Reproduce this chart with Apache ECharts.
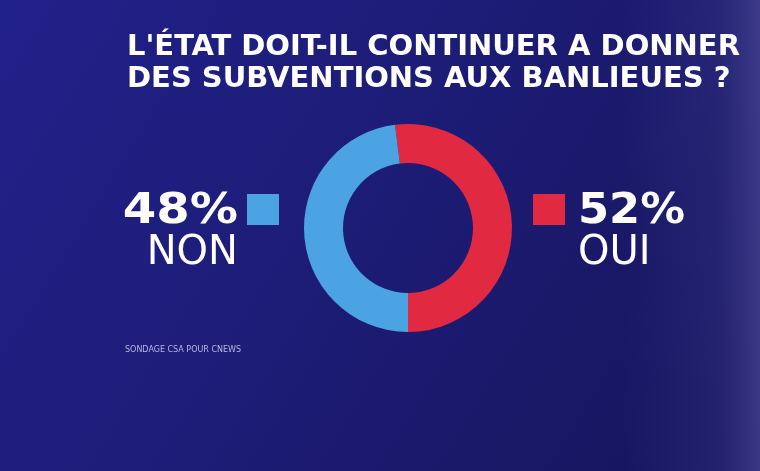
<!DOCTYPE html>
<html>
<head>
<meta charset="utf-8">
<script src="https://cdn.jsdelivr.net/npm/echarts@6/dist/echarts.min.js"></script>
<style>
  html, body { margin: 0; padding: 0; }
  #chart { width: 760px; height: 471px; }
</style>
</head>
<body>
<div id="chart"></div>
<script>
// sondage CSA pour CNews
const titleLines = ["L'ÉTAT DOIT-IL CONTINUER A DONNER", "DES SUBVENTIONS AUX BANLIEUES ?"];
const answers = ["OUI", "NON"];
const shares = [52, 48];
const colors = ["#e12a42", "#4ca3e4"];
const source = "SONDAGE CSA POUR CNEWS";

const chart = echarts.init(document.getElementById("chart"));

const titleFont = "bold 28px 'DejaVu Sans Condensed'";
const bigFont = "bold 43px 'DejaVu Sans'";
const smallFont = "40px 'DejaVu Sans'";

// largeur du titre calée sur l'image (613px pour la 1re ligne)
const ctx = document.createElement("canvas").getContext("2d");
ctx.font = titleFont;
const titleScale = 613 / ctx.measureText(titleLines[0]).width;

chart.setOption({
  backgroundColor: {
    type: "linear", x: 0, y: 0, x2: 1, y2: 1,
    colorStops: [
      { offset: 0, color: "#21218a" },
      { offset: 0.55, color: "#1c1b72" },
      { offset: 1, color: "#15145a" }
    ]
  },
  graphic: [
    // halo clair a droite
    {
      type: "rect", z: -10, silent: true,
      shape: { x: 620, y: 0, width: 140, height: 471 },
      style: {
        fill: {
          type: "linear", x: 0, y: 0, x2: 1, y2: 0,
          colorStops: [
            { offset: 0, color: "rgba(80,80,170,0)" },
            { offset: 0.7, color: "rgba(80,78,160,0.22)" },
            { offset: 1, color: "rgba(95,92,170,0.5)" }
          ]
        }
      }
    },
    {
      type: "text", x: 127, y: 34, scaleX: titleScale,
      style: { text: titleLines[0], fill: "#fff", font: titleFont, verticalAlign: "top" }
    },
    {
      type: "text", x: 127, y: 66, scaleX: titleScale,
      style: { text: titleLines[1], fill: "#fff", font: titleFont, verticalAlign: "top" }
    },
    // NON (gauche)
    {
      type: "text", x: 238, y: 212, scaleX: 1.12,
      style: { text: shares[1] + "%", fill: "#fff", font: bigFont, align: "right", verticalAlign: "middle" }
    },
    {
      type: "text", x: 238, y: 254,
      style: { text: answers[1], fill: "#fff", font: smallFont, align: "right", verticalAlign: "middle" }
    },
    {
      type: "rect", shape: { x: 247, y: 194, width: 32, height: 31 },
      style: { fill: colors[1] }
    },
    // OUI (droite)
    {
      type: "rect", shape: { x: 533, y: 194, width: 32, height: 31 },
      style: { fill: colors[0] }
    },
    {
      type: "text", x: 578, y: 212, scaleX: 1.04,
      style: { text: shares[0] + "%", fill: "#fff", font: bigFont, align: "left", verticalAlign: "middle" }
    },
    {
      type: "text", x: 578, y: 254,
      style: { text: answers[0], fill: "#fff", font: smallFont, align: "left", verticalAlign: "middle" }
    },
    {
      type: "text", left: 125, top: 346,
      style: { text: source, fill: "#b8b8e0", font: "8px 'DejaVu Sans'" }
    }
  ],
  series: [
    {
      type: "pie",
      center: [408, 228],
      radius: [65, 104],
      startAngle: 97.2,
      clockwise: true,
      silent: true,
      label: { show: false },
      labelLine: { show: false },
      itemStyle: { borderWidth: 0 },
      data: answers.map((a, i) => ({
        name: a,
        value: shares[i],
        itemStyle: { color: colors[i] }
      }))
    }
  ]
});
</script>
</body>
</html>
